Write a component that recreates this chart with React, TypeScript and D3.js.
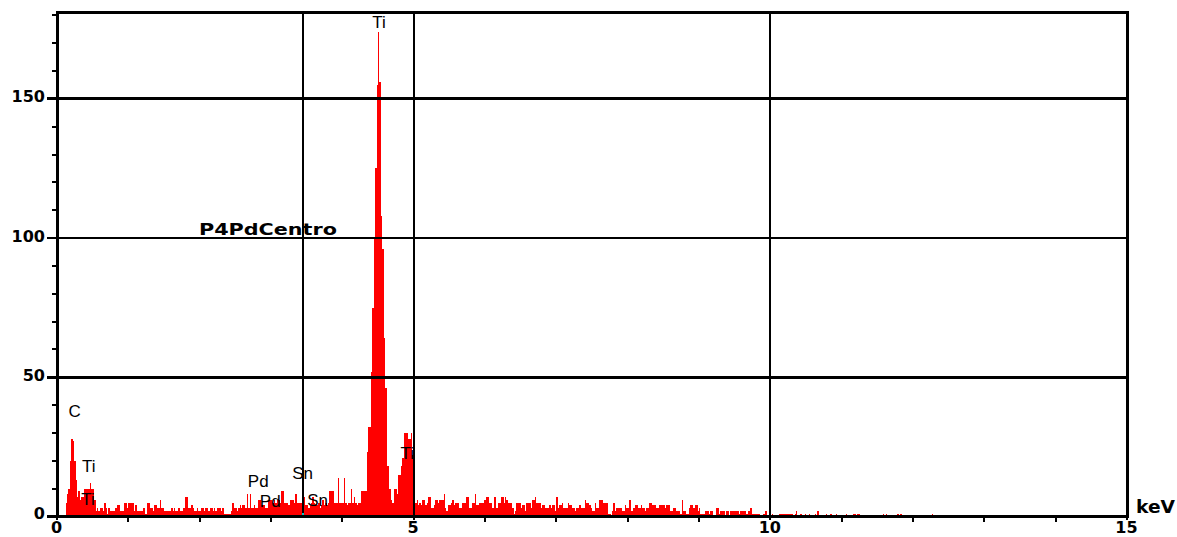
import React from 'react';
import * as d3 from 'd3';

// ---- data ----
const CHANNEL_KEV = 0.02; // energy width of one channel
// counts per 0.02 keV channel, starting at 0 keV (10 channels per row = 0.2 keV)
const counts: number[] = [
  0, 0, 0, 0, 0, 0, 5, 8, 10, 20,
  28, 27, 20, 13, 7, 9, 6, 7, 7, 10,
  10, 10, 10, 12, 10, 10, 6, 2, 3, 2,
  3, 3, 2, 5, 3, 1, 3, 2, 2, 2,
  2, 3, 4, 4, 2, 2, 2, 5, 5, 3,
  5, 5, 5, 5, 2, 4, 2, 2, 2, 2,
  3, 3, 1, 5, 5, 3, 3, 2, 4, 4,
  3, 3, 6, 3, 3, 2, 2, 2, 2, 2,
  3, 2, 3, 2, 2, 3, 2, 2, 3, 3,
  7, 7, 3, 3, 4, 3, 2, 2, 3, 2,
  2, 3, 3, 2, 3, 3, 2, 3, 3, 2,
  3, 2, 3, 3, 3, 2, 3, 1, 1, 1,
  1, 1, 2, 5, 3, 3, 2, 3, 4, 3,
  4, 4, 3, 8, 3, 8, 3, 3, 4, 3,
  3, 6, 6, 4, 4, 4, 3, 3, 6, 6,
  6, 5, 6, 5, 6, 6, 5, 9, 9, 5,
  5, 5, 4, 6, 6, 6, 5, 8, 5, 5,
  5, 5, 5, 7, 4, 4, 3, 4, 5, 7,
  5, 4, 4, 5, 3, 4, 6, 4, 5, 4,
  5, 9, 9, 9, 5, 5, 5, 14, 5, 5,
  5, 14, 5, 4, 5, 5, 10, 5, 7, 5,
  4, 5, 5, 9, 9, 9, 9, 23, 32, 32,
  52, 75, 100, 125, 155, 174, 156, 108, 96, 64,
  46, 18, 18, 10, 6, 5, 10, 10, 8, 15,
  15, 18, 21, 30, 30, 30, 28, 28, 30, 22,
  8, 5, 6, 4, 5, 4, 6, 6, 4, 5,
  7, 7, 3, 3, 4, 6, 6, 5, 6, 6,
  6, 8, 3, 2, 4, 4, 5, 6, 4, 5,
  5, 5, 3, 3, 5, 5, 5, 7, 7, 3,
  3, 5, 5, 8, 4, 4, 5, 5, 5, 6,
  6, 7, 7, 5, 5, 3, 7, 7, 3, 5,
  5, 7, 7, 5, 7, 6, 5, 5, 5, 3,
  1, 2, 5, 5, 5, 3, 4, 4, 2, 5,
  5, 5, 3, 6, 6, 7, 5, 5, 5, 3,
  4, 4, 3, 3, 3, 4, 3, 4, 4, 2,
  7, 3, 4, 4, 5, 3, 3, 3, 5, 4,
  4, 3, 3, 2, 3, 3, 4, 3, 3, 3,
  6, 5, 5, 4, 3, 2, 2, 5, 3, 3,
  6, 6, 6, 5, 5, 5, 1, 1, 0, 2,
  5, 2, 3, 3, 3, 3, 2, 2, 4, 3,
  3, 6, 2, 2, 3, 4, 4, 3, 3, 4,
  3, 3, 2, 3, 3, 5, 5, 4, 4, 4,
  3, 3, 4, 4, 4, 4, 3, 4, 4, 4,
  2, 2, 3, 3, 2, 2, 2, 1, 6, 2,
  2, 1, 1, 3, 4, 4, 3, 4, 4, 2,
  3, 1, 1, 1, 2, 2, 2, 1, 2, 2,
  0, 0, 3, 3, 1, 2, 2, 2, 0, 2,
  2, 0, 2, 2, 2, 2, 2, 2, 1, 2,
  2, 2, 2, 1, 2, 2, 3, 1, 1, 1,
  1, 1, 1, 0, 0, 1, 2, 2, 0, 0,
  0, 1, 0, 0, 0, 0, 1, 1, 1, 1,
  1, 1, 1, 1, 1, 1, 0, 1, 2, 0,
  0, 1, 0, 0, 1, 0, 0, 1, 0, 0,
  0, 1, 0, 2, 0, 0, 0, 0, 0, 1,
  0, 0, 1, 0, 0, 0, 1, 0, 0, 0,
  0, 0, 0, 1, 0, 0, 0, 0, 1, 1,
  0, 1, 1, 0, 0, 0, 0, 0, 0, 0,
  0, 0, 0, 0, 0, 0, 0, 0, 0, 1,
  0, 1, 0, 0, 0, 0, 0, 0, 0, 1,
  0, 1, 0, 0, 0, 0, 0, 0, 0, 0,
  0, 0, 0, 0, 0, 0, 0, 0, 0, 0,
  0, 0, 0, 1, 0, 0, 0, 0, 0, 0,
];

const X_MAX_KEV = 15;
const Y_MAX_COUNTS = 181;
const xTickLabels = [0, 5, 10, 15];
const xMinorTicks = [1, 2, 3, 4, 6, 7, 8, 9, 11, 12, 13, 14];
const yTickLabels = [0, 50, 100, 150];
const yMinorTicks = [10, 20, 30, 40, 60, 70, 80, 90, 110, 120, 130, 140, 160, 170, 180];
const xUnit = 'keV';
const sampleName = 'P4PdCentro';
const sampleNameAt = { e: 1.99, c: 101 };
const markerKeV = 3.44;
const markerCount = 2;

const peakLabelText = ['Ti', 'C', 'Ti', 'Ti', 'Pd', 'Pd', 'Sn', 'Sn', 'Ti'];
const peakLabelKeV = [4.42, 0.16, 0.35, 0.34, 2.675, 2.843, 3.297, 3.508, 4.816];
const peakLabelCount = [175.5, 35.6, 16.1, 4.3, 10.5, 3.3, 13.5, 3.6, 20.7];

// ---- layout ----
const W = 1177;
const H = 537;
const LEFT = 57;
const RIGHT = 1127;
const TOP = 12.5;
const BOTTOM = 516.5;

export default function App() {
  const x = d3.scaleLinear().domain([0, X_MAX_KEV]).range([LEFT, RIGHT]);
  const y = d3.scaleLinear().domain([0, Y_MAX_COUNTS]).range([BOTTOM, TOP]);

  const pts: [number, number][] = counts.map((c, i) => [i * CHANNEL_KEV, c]);
  pts.push([counts.length * CHANNEL_KEV, counts[counts.length - 1]]);
  const area = d3
    .area<[number, number]>()
    .x((d) => x(d[0]))
    .y0(y(0))
    .y1((d) => y(d[1]))
    .curve(d3.curveStepAfter);

  const boldFont = '"DejaVu Sans", sans-serif';
  const labelFont = '"Liberation Sans", Arial, sans-serif';

  const gridWidth = (v: number) => (v === 100 ? 2 : 3);
  const markerX = x(markerKeV + CHANNEL_KEV / 2);

  return (
    <svg
      width={W}
      height={H}
      viewBox={`0 0 ${W} ${H}`}
      style={{ position: 'absolute', left: 0, top: 0, display: 'block', background: '#fff' }}
    >
      <rect x={0} y={0} width={W} height={H} fill="#fff" />

      {/* spectrum */}
      <path d={area(pts) || ''} fill="#ff0000" shapeRendering="crispEdges" />
      {/* cursor channel */}
      <rect
        x={x(markerKeV)}
        y={y(markerCount)}
        width={x(markerKeV + CHANNEL_KEV) - x(markerKeV)}
        height={y(0) - y(markerCount)}
        fill="#00c8c8"
        shapeRendering="crispEdges"
      />

      {/* horizontal grid lines at labelled counts */}
      {yTickLabels
        .filter((v) => v > 0)
        .map((v) => (
          <line
            key={'gy' + v}
            x1={47}
            x2={RIGHT}
            y1={y(v)}
            y2={y(v)}
            stroke="#000"
            strokeWidth={gridWidth(v)}
            shapeRendering="crispEdges"
          />
        ))}
      {/* vertical grid lines */}
      {xTickLabels
        .filter((v) => v > 0 && v < X_MAX_KEV)
        .map((v) => (
          <line
            key={'gx' + v}
            x1={x(v)}
            x2={x(v)}
            y1={TOP}
            y2={BOTTOM}
            stroke="#000"
            strokeWidth={2}
            shapeRendering="crispEdges"
          />
        ))}
      {/* cursor line */}
      <line x1={markerX} x2={markerX} y1={TOP} y2={BOTTOM - 4} stroke="#000" strokeWidth={2} shapeRendering="crispEdges" />

      {/* frame */}
      <line x1={LEFT} x2={RIGHT + 1.5} y1={TOP} y2={TOP} stroke="#000" strokeWidth={3} shapeRendering="crispEdges" />
      <line x1={RIGHT} x2={RIGHT} y1={TOP} y2={BOTTOM} stroke="#000" strokeWidth={3} shapeRendering="crispEdges" />
      <line x1={LEFT} x2={LEFT} y1={TOP - 1.5} y2={BOTTOM + 1.5} stroke="#000" strokeWidth={3} shapeRendering="crispEdges" />
      <line x1={47} x2={RIGHT + 1.5} y1={BOTTOM} y2={BOTTOM} stroke="#000" strokeWidth={3} shapeRendering="crispEdges" />

      {/* minor ticks */}
      {yMinorTicks.map((v) => (
        <line key={'my' + v} x1={52} x2={LEFT} y1={y(v)} y2={y(v)} stroke="#000" strokeWidth={2} shapeRendering="crispEdges" />
      ))}
      {xMinorTicks.map((v) => (
        <line key={'mx' + v} x1={x(v)} x2={x(v)} y1={BOTTOM} y2={BOTTOM + 5} stroke="#000" strokeWidth={2} shapeRendering="crispEdges" />
      ))}
      {xTickLabels.map((v) => (
        <line key={'Mx' + v} x1={x(v)} x2={x(v)} y1={BOTTOM} y2={BOTTOM + 3} stroke="#000" strokeWidth={2} shapeRendering="crispEdges" />
      ))}

      {/* y labels */}
      {yTickLabels.map((v) => (
        <text
          key={'ly' + v}
          x={45}
          y={v === 0 ? y(v) + 2 : y(v) + 3.5}
          textAnchor="end"
          fontFamily={boldFont}
          fontWeight="bold"
          fontSize={16}
          fill="#000"
        >
          {v}
        </text>
      ))}
      {/* x labels */}
      {xTickLabels.map((v) => (
        <text
          key={'lx' + v}
          x={x(v) - 0.5}
          y={533}
          textAnchor="middle"
          fontFamily={boldFont}
          fontWeight="bold"
          fontSize={16}
          fill="#000"
        >
          {v}
        </text>
      ))}
      <text
        x={RIGHT + 9}
        y={512.7}
        fontFamily={boldFont}
        fontWeight="bold"
        fontSize={17}
        textLength={39}
        lengthAdjust="spacingAndGlyphs"
        fill="#000"
      >
        {xUnit}
      </text>

      {/* sample name */}
      <text
        x={x(sampleNameAt.e)}
        y={y(sampleNameAt.c)}
        fontFamily={boldFont}
        fontWeight="bold"
        fontSize={16}
        textLength={138}
        lengthAdjust="spacingAndGlyphs"
        fill="#000"
      >
        {sampleName}
      </text>

      {/* peak labels */}
      {peakLabelText.map((t, i) => (
        <text
          key={'pl' + i}
          x={x(peakLabelKeV[i])}
          y={y(peakLabelCount[i])}
          fontFamily={labelFont}
          fontSize={17}
          fill="#000"
        >
          {t}
        </text>
      ))}
    </svg>
  );
}
